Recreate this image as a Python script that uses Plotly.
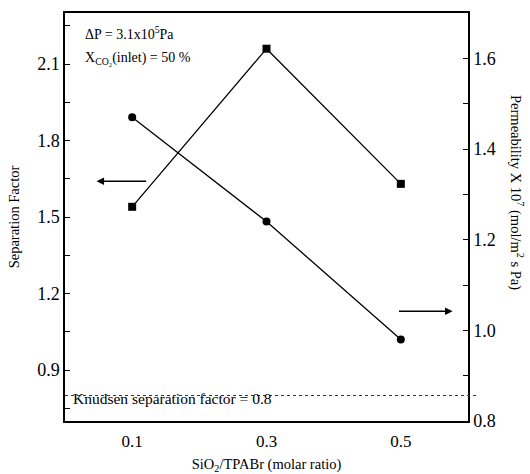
import plotly.graph_objects as go

# data
ratio = [0.1, 0.3, 0.5]
sep_factor = [1.54, 2.16, 1.63]
permeability = [1.47, 1.24, 0.98]
knudsen = 0.8
x_ticks = [0.1, 0.3, 0.5]
x_labels = ["0.1", "0.3", "0.5"]
left_ticks = [0.9, 1.2, 1.5, 1.8, 2.1]
right_ticks = [0.8, 1.0, 1.2, 1.4, 1.6]

FONT = "Liberation Serif, Times New Roman, DejaVu Serif, serif"

fig = go.Figure()
fig.add_trace(go.Scatter(
    x=ratio, y=sep_factor, mode="lines+markers", yaxis="y",
    line=dict(color="black", width=1.3),
    marker=dict(symbol="square", size=8, color="black"),
    showlegend=False))
fig.add_trace(go.Scatter(
    x=ratio, y=permeability, mode="lines+markers", yaxis="y2",
    line=dict(color="black", width=1.3),
    marker=dict(symbol="circle", size=8, color="black"),
    showlegend=False))

fig.add_shape(type="line", xref="paper", x0=0, x1=1.02, yref="y", y0=knudsen, y1=knudsen,
              line=dict(color="#333333", width=1.2, dash="dot"))

fig.update_layout(
    width=530, height=474,
    margin=dict(l=65, r=62, t=13, b=53, autoexpand=False),
    plot_bgcolor="white", paper_bgcolor="white",
    font=dict(family=FONT, color="black", size=16),
    xaxis=dict(range=[0, 0.6], tickvals=x_ticks, ticktext=x_labels,
               showline=True, linecolor="black", linewidth=1.5, mirror=True,
               ticks="", showgrid=False, zeroline=False, ticklabelstandoff=4,
               automargin=False,
               tickfont=dict(family=FONT, size=17),
               title=dict(text="SiO<sub>2</sub>/TPABr (molar ratio)",
                          font=dict(family=FONT, size=14.5), standoff=9)),
    yaxis=dict(range=[0.7, 2.3], tickvals=left_ticks,
               ticktext=[f"{v:.1f}" for v in left_ticks],
               showline=True, linecolor="black", linewidth=1.5,
               ticks="inside", ticklen=5, tickcolor="black", automargin=False,
               minor=dict(dtick=0.15, tick0=0.75, ticks="inside", ticklen=5, tickcolor="black"),
               showgrid=False, zeroline=False, tickfont=dict(family=FONT, size=18),
               title=dict(text="Separation Factor", font=dict(family=FONT, size=14.5), standoff=14)),
    yaxis2=dict(range=[0.8, 1.7], overlaying="y", side="right", tickvals=right_ticks,
                ticktext=[f"{v:.1f}" for v in right_ticks],
                showline=True, linecolor="black", linewidth=1.5, automargin=False,
                ticks="inside", ticklen=5, tickcolor="black",
                minor=dict(dtick=0.1, tick0=0.8, ticks="inside", ticklen=5, tickcolor="black"),
                showgrid=False, zeroline=False, tickfont=dict(family=FONT, size=18)),
)

fig.add_annotation(xref="paper", yref="paper", x=1.0 + 60/403, y=0.5 + 0.06,
                   text="Permeability X 10<sup>7</sup> (mol/m<sup>2</sup> s Pa)",
                   textangle=90, showarrow=False, font=dict(family=FONT, size=14.5))

fig.add_annotation(xref="x", yref="y", x=0.027, y=2.22, xanchor="left", yanchor="middle",
                   text="ΔP = 3.1x10<sup>5</sup>Pa", showarrow=False, font=dict(family=FONT, size=14))
fig.add_annotation(xref="x", yref="y", x=0.027, y=2.12, xanchor="left", yanchor="middle",
                   text="X<sub>CO₂</sub>(inlet) = 50 %", showarrow=False, font=dict(family=FONT, size=14))
fig.add_annotation(xref="x", yref="y", x=0.009, y=knudsen, xanchor="left", yanchor="middle", yshift=-3,
                   text="Knudsen separation factor = 0.8", showarrow=False, font=dict(family=FONT, size=15.5))

# arrows
fig.add_annotation(xref="x", yref="y", x=0.047, y=1.64, ax=0.123, ay=1.64,
                   axref="x", ayref="y", text="", showarrow=True,
                   arrowhead=2, arrowsize=1, arrowwidth=1.5, arrowcolor="black")
fig.add_annotation(xref="x", yref="y2", x=0.577, y=1.042, ax=0.495, ay=1.042,
                   axref="x", ayref="y2", text="", showarrow=True,
                   arrowhead=2, arrowsize=1, arrowwidth=1.5, arrowcolor="black")

fig.write_html("out.html")
